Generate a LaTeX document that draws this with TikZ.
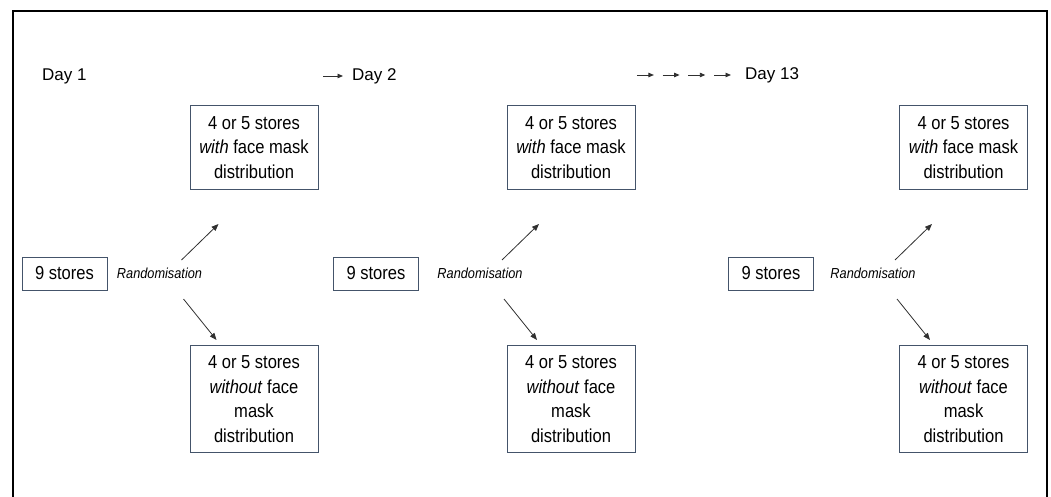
\documentclass[tikz,border=0pt]{standalone}
\usepackage{fontspec}
\setmainfont{Liberation Sans}
\newfontfamily\narrowfont[FakeStretch=0.88]{Liberation Sans}
\usetikzlibrary{arrows.meta,calc,positioning}
\definecolor{boxline}{HTML}{44546A}
\definecolor{arrline}{HTML}{303030}

\begin{document}
\begin{tikzpicture}[x=1pt, y=-1pt,
    storebox/.style={draw=boxline, line width=1pt, inner sep=0pt, minimum width=85pt, minimum height=33pt, font=\narrowfont\fontsize{18.8}{19}\selectfont},
    groupbox/.style={draw=boxline, line width=1pt, inner sep=0pt, minimum width=128pt, align=center, font=\narrowfont\fontsize{18.8}{24.5}\selectfont},
    daylabel/.style={anchor=west, inner sep=0pt, font=\fontsize{17}{20}\selectfont},
    randlabel/.style={inner sep=0pt, font=\narrowfont\fontsize{14.5}{16}\selectfont\itshape},
    randarr/.style={draw=arrline, line width=0.8pt, -{Triangle[length=7pt,width=5.5pt]}},
    dayarr/.style={draw=arrline, line width=0.9pt, -{Triangle[length=5.5pt,width=4.5pt]}}]
    \useasboundingbox (0,0) rectangle (1051,497);

    % Frame
    \draw[line width=2.5pt] (13,497) -- (13,11) -- (1047,11) -- (1047,497);

    % Day labels
    \node[daylabel] (day1) at (42,76) {Day 1};
    \node[daylabel] (day2) at (352,76) {Day 2};
    \node[daylabel] (day13) at (745,75) {Day 13};
    \draw[dayarr] ($(day2.west)+(-29,0)$) -- ($(day2.west)+(-9,0)$);
    \foreach \i in {0,...,3}
        \draw[dayarr] ($(day13.west)+(-31-25.7*\i,0)$) -- ($(day13.west)+(-14-25.7*\i,0)$);

    % One randomisation per day
    \foreach \n/\sx/\rx/\bx in {1/64.5/159.5/254, 2/376/480/571, 3/771/873/963.5} {
        \node[storebox] (stores\n) at (\sx,273.5) {9 stores};
        \node[randlabel] (rand\n) at (\rx,273) {Randomisation};
        \node[groupbox, minimum height=83pt] (with\n) at (\bx,147.5)
            {4 or 5 stores\\\textit{with} face mask\\distribution};
        \node[groupbox, minimum height=107pt] (without\n) at (\bx,399)
            {4 or 5 stores\\\textit{without} face\\mask\\distribution};
        \draw[randarr] ($(rand\n)+(22,-13)$) -- ($(rand\n)+(59,-49)$);
        \draw[randarr] ($(rand\n)+(24,26)$) -- ($(rand\n)+(57,67)$);
    }
\end{tikzpicture}
\end{document}
